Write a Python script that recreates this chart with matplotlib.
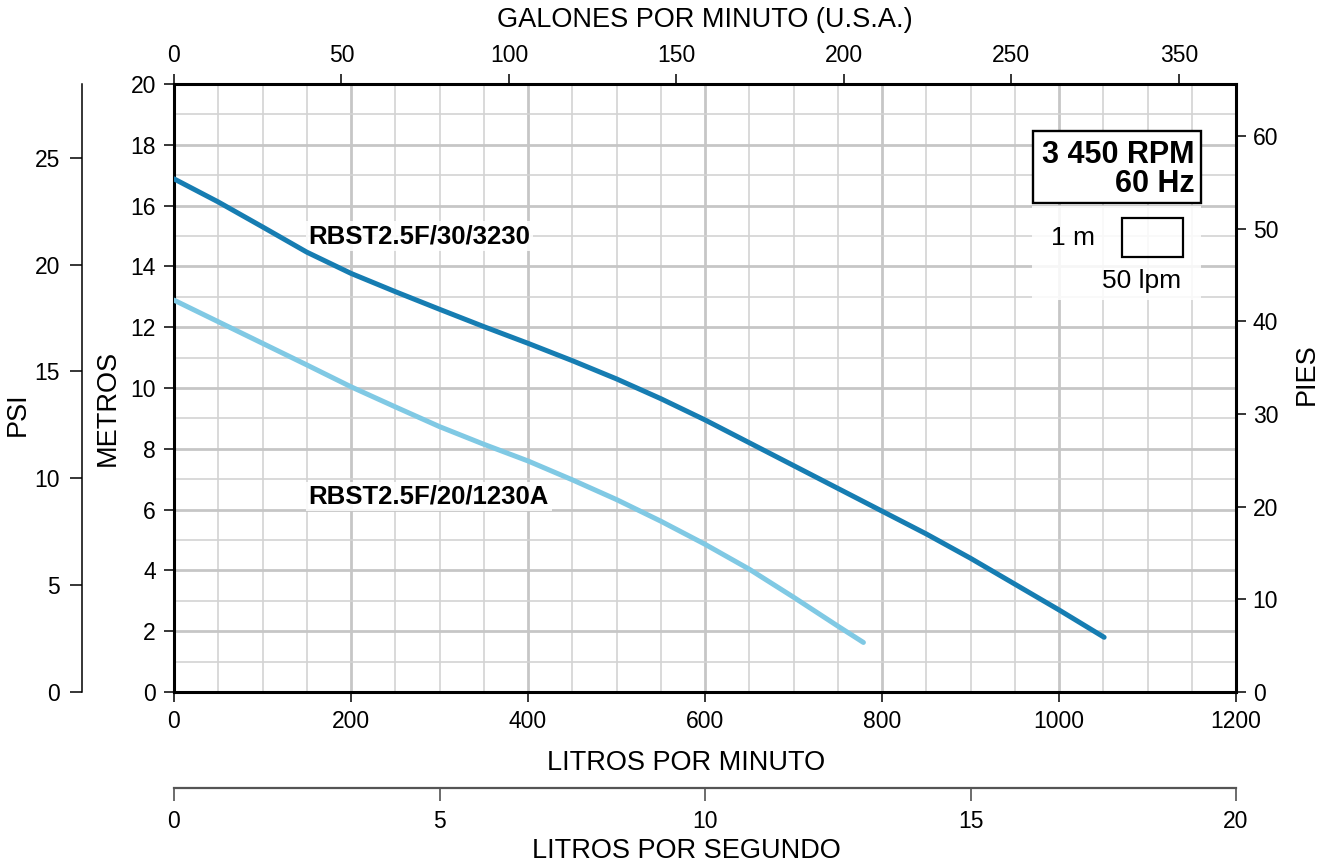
import numpy as np
import matplotlib
matplotlib.use('Agg')
import matplotlib.pyplot as plt
from matplotlib.patches import Rectangle

# Curvas: caudal (lpm) y carga (m)
q_30 = [0, 50, 100, 150, 200, 250, 300, 350, 400, 450, 500, 550, 600, 650,
        700, 750, 800, 850, 900, 950, 1000, 1051]
h_30 = [16.88, 16.12, 15.3, 14.47, 13.77, 13.17, 12.59, 12.02, 11.47, 10.9,
        10.3, 9.65, 8.95, 8.2, 7.45, 6.7, 5.95, 5.2, 4.4, 3.55, 2.7, 1.8]
q_20 = [0, 50, 100, 150, 200, 250, 300, 350, 400, 450, 500, 550, 600, 650,
        700, 750, 779]
h_20 = [12.89, 12.18, 11.47, 10.76, 10.04, 9.38, 8.73, 8.15, 7.6, 6.98,
        6.33, 5.62, 4.86, 4.04, 3.12, 2.17, 1.63]
name_30 = 'RBST2.5F/30/3230'
name_20 = 'RBST2.5F/20/1230A'

# Ejes
lpm_ticks = [0, 200, 400, 600, 800, 1000, 1200]
m_ticks = [0, 2, 4, 6, 8, 10, 12, 14, 16, 18, 20]
gpm_ticks = [0, 50, 100, 150, 200, 250, 300]
gpm_labels = ['0', '50', '100', '150', '200', '250', '350']
ft_ticks = [0, 10, 20, 30, 40, 50, 60]
psi_ticks = [0, 5, 10, 15, 20, 25]
lps_ticks = [0, 5, 10, 15, 20]

NARROW = ['Liberation Sans Narrow', 'Liberation Sans', 'DejaVu Sans']
REG = ['Liberation Sans', 'DejaVu Sans']
plt.rcParams['font.family'] = NARROW

dark = '#167db2'
light = '#80c9e4'
tick_fs = 16.5
title_fs = 19.5

W, H = 1324, 867
fig = plt.figure(figsize=(W / 100, H / 100), dpi=100)
ax = fig.add_axes([174 / W, 1 - 692 / H, 1062 / W, 608 / H])
ax.set_xlim(0, 1200)
ax.set_ylim(0, 20)
ax.set_xticks(lpm_ticks)
ax.set_yticks(m_ticks)
ax.set_xticks(np.arange(0, 1201, 50), minor=True)
ax.set_yticks(np.arange(0, 21, 1), minor=True)
ax.grid(which='minor', color='#d3d3d3', lw=1.2)
ax.grid(which='major', color='#c6c6c6', lw=2.0)
ax.set_axisbelow(True)
ax.tick_params(which='minor', length=0)
ax.tick_params(which='major', length=7, width=1.1, labelsize=tick_fs, pad=6)
for s in ax.spines.values():
    s.set_linewidth(2.2)

# Curvas
ax.plot(q_30, h_30, color=dark, lw=3.6, solid_capstyle='round', zorder=3)
ax.plot(q_20, h_20, color=light, lw=3.6, solid_capstyle='round', zorder=3)

box = dict(facecolor='white', alpha=0.85, edgecolor='none', pad=2)
ax.text(151.8, 14.76, name_30, fontsize=18.5, fontweight='bold', family=REG,
        va='baseline', ha='left', bbox=box, zorder=2.8)
ax.text(151.8, 6.2, name_20, fontsize=18.5, fontweight='bold', family=REG,
        va='baseline', ha='left', bbox=box, zorder=2.8)

# Recuadro RPM
ax.add_patch(Rectangle((970.6, 16.09), 190, 2.36, facecolor='white',
                       edgecolor='black', lw=1.7, zorder=4))
ax.text(1152.9, 16.46, '3 450 RPM\n60 Hz', fontsize=22, fontweight='bold',
        family=REG, ha='right', va='baseline', multialignment='right',
        linespacing=0.95, zorder=5)

# Escala
ax.add_patch(Rectangle((970, 12.9), 190, 3.1, facecolor='white', alpha=0.85,
                       edgecolor='none', zorder=2.5))
ax.add_patch(Rectangle((1070.8, 14.3), 69.7, 1.3, facecolor='none',
                       edgecolor='black', lw=1.6, zorder=4))
ax.text(1040.7, 14.7, '1 m', fontsize=19, family=REG, ha='right',
        va='baseline', zorder=5)
ax.text(1093.8, 13.28, '50 lpm', fontsize=19, family=REG, ha='center',
        va='baseline', zorder=5)

# Eje superior: galones por minuto
top = ax.secondary_xaxis('top', functions=(lambda x: x / 3.785, lambda x: x * 3.785))
top.set_xticks(gpm_ticks, labels=gpm_labels)
top.tick_params(length=7, width=1.1, labelsize=tick_fs, pad=5)

# Eje derecho: pies
right = ax.secondary_yaxis('right', functions=(lambda m: m / 0.3048, lambda f: f * 0.3048))
right.set_yticks(ft_ticks)
right.tick_params(length=7, width=1.1, labelsize=tick_fs, pad=5)

# Eje PSI
psi = ax.secondary_yaxis(-0.0866, functions=(lambda m: m / 0.70307, lambda p: p * 0.70307))
psi.set_yticks(psi_ticks)
psi.tick_params(length=9, width=1.1, labelsize=tick_fs, pad=7)
for s in psi.spines.values():
    s.set_linewidth(1.1)

# Eje litros por segundo
lps = ax.secondary_xaxis(-0.158, functions=(lambda q: q / 60, lambda s: s * 60))
lps.set_xticks(lps_ticks)
lps.tick_params(length=9, width=1.1, labelsize=tick_fs, pad=7, color='#444444')
for s in lps.spines.values():
    s.set_linewidth(1.6)
    s.set_color('#555555')

# Titulos de ejes
fig.text(705 / W, 1 - 20 / H, 'GALONES POR MINUTO (U.S.A.)', fontsize=title_fs,
         family=REG, ha='center', va='center')
fig.text(686 / W, 1 - 763 / H, 'LITROS POR MINUTO', fontsize=title_fs,
         family=REG, ha='center', va='center')
fig.text(686 / W, 1 - 851 / H, 'LITROS POR SEGUNDO', fontsize=title_fs,
         family=REG, ha='center', va='center')
fig.text(108 / W, 1 - 408 / H, 'METROS', fontsize=title_fs, family=REG,
         rotation=90, ha='center', va='center')
fig.text(18 / W, 1 - 414 / H, 'PSI', fontsize=title_fs, family=REG,
         rotation=90, ha='center', va='center')
fig.text(1307 / W, 1 - 374 / H, 'PIES', fontsize=title_fs, family=REG,
         rotation=90, ha='center', va='center')

fig.savefig('out.png', dpi=100)
